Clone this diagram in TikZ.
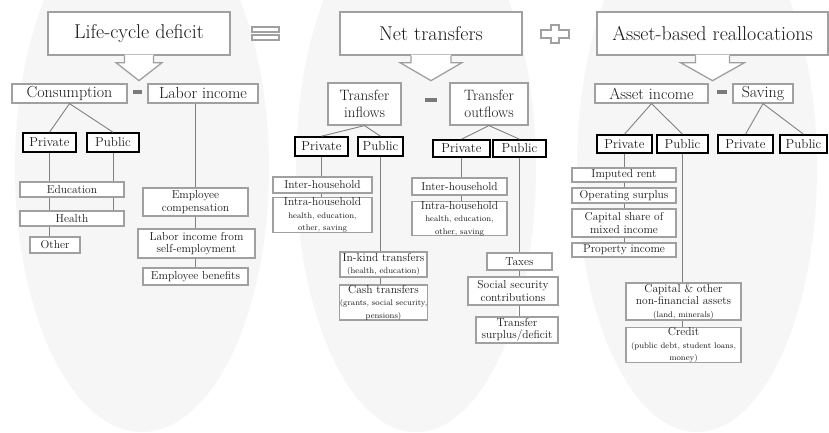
\documentclass[tikz,border=0pt]{standalone}
\usepackage{fontspec}
\usetikzlibrary{calc}
\definecolor{bord}{HTML}{A0A0A0}
\definecolor{connc}{HTML}{808080}
\definecolor{oval}{HTML}{F6F6F6}
\definecolor{txt}{HTML}{1A1A1A}
\definecolor{dashc}{HTML}{7A7A7A}
\tikzset{
 base/.style={fill=white, inner sep=0pt, align=center, text=txt},
 titlebox/.style={base, draw=bord, line width=1.3pt, font=\fontsize{20}{22}\selectfont},
 midbox/.style={base, draw=bord, line width=1.2pt, font=\fontsize{16}{17}\selectfont},
 midtwo/.style={base, draw=bord, line width=1.2pt, font=\fontsize{15}{17}\selectfont},
 ppbox/.style={base, draw=black, line width=1.6pt, font=\fontsize{13}{14}\selectfont},
 leaf/.style={base, draw=bord, line width=1.2pt, font=\fontsize{11.5}{12.5}\selectfont},
 conn/.style={draw=connc, line width=0.9pt},
 calloutline/.style={draw=bord, line width=1.3pt, line join=miter},
 icon/.style={draw=bord, line width=1.1pt, fill=white},
 minus/.style={fill=dashc},
}
\newcommand{\bx}[7]{\node[#1, minimum width={(#5)-(#3)}, minimum height={(#6)-(#4)}] (#2) at ({((#3)+(#5))/2},{((#4)+(#6))/2}) {#7};}
\newcommand{\callout}[3]{%
 \path[fill=white] ([xshift=-#2pt,yshift=1pt]#1.south) -- ([xshift=-#2pt,yshift=-7pt]#1.south) -- ([xshift=-#3pt,yshift=-7pt]#1.south) -- ([yshift=-25pt]#1.south) -- ([xshift=#3pt,yshift=-7pt]#1.south) -- ([xshift=#2pt,yshift=-7pt]#1.south) -- ([xshift=#2pt,yshift=1pt]#1.south) -- cycle;
 \draw[calloutline] ([xshift=-#2pt]#1.south) -- ([xshift=-#2pt,yshift=-7pt]#1.south) -- ([xshift=-#3pt,yshift=-7pt]#1.south) -- ([yshift=-25pt]#1.south) -- ([xshift=#3pt,yshift=-7pt]#1.south) -- ([xshift=#2pt,yshift=-7pt]#1.south) -- ([xshift=#2pt]#1.south);}
\newcommand{\sm}{\fontsize{8.2}{9.5}\selectfont}
\begin{document}
\begin{tikzpicture}[x=1pt,y=-1pt]
\useasboundingbox (0,0) rectangle (829,432);
\clip (0,0) rectangle (829,432);
\fill[white] (0,0) rectangle (829,432);
% background ovals
\fill[oval] (142,168) ellipse [x radius=127, y radius=264];
\fill[oval] (416,168) ellipse [x radius=120, y radius=264];
\fill[oval] (697,168) ellipse [x radius=120, y radius=264];
% titles
\bx{titlebox}{lcd}{48}{12}{230}{55}{Life-cycle deficit}
\bx{titlebox}{nt}{340}{12}{522}{55}{Net transfers}
\bx{titlebox}{abr}{597}{12}{828}{55}{Asset-based reallocations}
\callout{lcd}{14.5}{23}
\callout{nt}{20}{31}
\callout{abr}{17}{32}
% = and + icons
\draw[icon] (252,27) rectangle (279,32);
\draw[icon] (252,35) rectangle (279,40);
\draw[icon] (551,25) -- (559,25) -- (559,30) -- (569,30) -- (569,38) -- (559,38) -- (559,43) -- (551,43) -- (551,38) -- (541,38) -- (541,30) -- (551,30) -- cycle;
% level 2
\bx{midbox}{cons}{12}{84}{127}{103}{Consumption}
\bx{midbox}{lab}{148}{84}{258}{103}{Labor income}
\bx{midtwo}{tin}{328}{83}{401}{125}{Transfer\\inflows}
\bx{midtwo}{tout}{450}{83}{528}{125}{Transfer\\outflows}
\bx{midbox}{ai}{595}{84}{708}{103}{Asset income}
\bx{midbox}{sav}{733}{84}{793}{103}{Saving}
\fill[minus] (133,90) rectangle (142,94);
\fill[minus] (425,98) rectangle (437,102);
\fill[minus] (717,90) rectangle (727,94);
% level 3
\bx{ppbox}{cpr}{23}{133}{76}{152}{Private}
\bx{ppbox}{cpu}{87}{133}{139}{152}{Public}
\bx{ppbox}{ipr}{295}{137}{348}{156}{Private}
\bx{ppbox}{ipu}{358}{137}{403}{156}{Public}
\bx{ppbox}{opr}{433}{140}{490}{157}{Private}
\bx{ppbox}{opu}{493}{140}{546}{157}{Public}
\bx{ppbox}{apr}{597}{135}{652}{153}{Private}
\bx{ppbox}{apu}{657}{135}{708}{153}{Public}
\bx{ppbox}{spr}{718}{135}{773}{153}{Private}
\bx{ppbox}{spu}{780}{135}{827}{153}{Public}
% leaves left
\bx{leaf}{edu}{20}{182}{124}{197}{Education}
\bx{leaf}{hea}{20}{211}{124}{226}{Health}
\bx{leaf}{oth}{30}{237}{80}{253}{Other}
\bx{leaf}{ec}{143}{188}{248}{216}{Employee\\compensation}
\bx{leaf}{lse}{138}{229}{255}{258}{Labor income from\\self-employment}
\bx{leaf}{eb}{143}{268}{248}{285}{Employee benefits}
% leaves middle
\bx{leaf}{iha}{273}{177}{372}{193}{Inter-household}
\bx{leaf}{iaa}{273}{198}{372}{232}{Intra-household\\\sm health, education,\\\sm other, saving}
\bx{leaf}{ik}{340}{252}{427}{277}{In-kind transfers\\\sm (health, education)}
\bx{leaf}{ct}{340}{285}{427}{320}{Cash transfers\\\sm (grants, social security,\\\sm pensions)}
\bx{leaf}{ihb}{412}{178}{507}{195}{Inter-household}
\bx{leaf}{iab}{412}{202}{507}{235}{Intra-household\\\sm health, education,\\\sm other, saving}
\bx{leaf}{tax}{487}{253}{552}{270}{Taxes}
\bx{leaf}{ssc}{468}{277}{558}{305}{Social security\\contributions}
\bx{leaf}{tsd}{476}{317}{558}{343}{Transfer\\surplus/deficit}
% leaves right
\bx{leaf}{ir}{572}{168}{676}{182}{Imputed rent}
\bx{leaf}{os}{572}{188}{676}{203}{Operating surplus}
\bx{leaf}{csm}{572}{209}{676}{237}{Capital share of\\mixed income}
\bx{leaf}{pi}{572}{243}{676}{257}{Property income}
\bx{leaf}{cap}{626}{283}{741}{320}{Capital \& other\\non-financial assets\\\sm (land, minerals)}
\bx{leaf}{cr}{626}{328}{741}{362}{Credit\\\sm (public debt, student loans,\\\sm money)}
% connectors level 2 -> 3
\draw[conn] (cpr.north) -- (cons.south) -- (cpu.north);
\draw[conn] (ipr.north) -- (tin.south) -- (ipu.north);
\draw[conn] (opr.north) -- (tout.south) -- (opu.north);
\draw[conn] (apr.north) -- (ai.south) -- (apu.north);
\draw[conn] (spr.north) -- (sav.south) -- (spu.north);
% consumption chains
\draw[conn] (cpr.south) -- (cpr.south |- edu.north);
\draw[conn] (cpr.south |- edu.south) -- (cpr.south |- hea.north);
\draw[conn] (cpr.south |- hea.south) -- (cpr.south |- oth.north);
\draw[conn] (cpu.south) -- (cpu.south |- edu.north);
\draw[conn] (cpu.south |- edu.south) -- (cpu.south |- hea.north);
% labor chain
\draw[conn] (ec.north |- lab.south) -- (ec.north);
\draw[conn] (ec.south) -- (ec.south |- lse.north);
\draw[conn] (ec.south |- lse.south) -- (ec.south |- eb.north);
% transfers
\draw[conn] (ipr.south) -- (ipr.south |- iha.north);
\draw[conn] (ipr.south |- iha.south) -- (ipr.south |- iaa.north);
\draw[conn] (ipu.south) -- (ipu.south |- ik.north);
\draw[conn] (ipu.south |- ik.south) -- (ipu.south |- ct.north);
\draw[conn] (opr.south) -- (opr.south |- ihb.north);
\draw[conn] (opr.south |- ihb.south) -- (opr.south |- iab.north);
\draw[conn] (opu.south) -- (opu.south |- tax.north);
\draw[conn] (opu.south |- tax.south) -- (opu.south |- ssc.north);
\draw[conn] (opu.south |- ssc.south) -- (opu.south |- tsd.north);
% assets
\draw[conn] (apr.south) -- (apr.south |- ir.north);
\draw[conn] (apr.south |- ir.south) -- (apr.south |- os.north);
\draw[conn] (apr.south |- os.south) -- (apr.south |- csm.north);
\draw[conn] (apr.south |- csm.south) -- (apr.south |- pi.north);
\draw[conn] (apu.south) -- (apu.south |- cap.north);
\draw[conn] (apu.south |- cap.south) -- (apu.south |- cr.north);
\end{tikzpicture}
\end{document}
